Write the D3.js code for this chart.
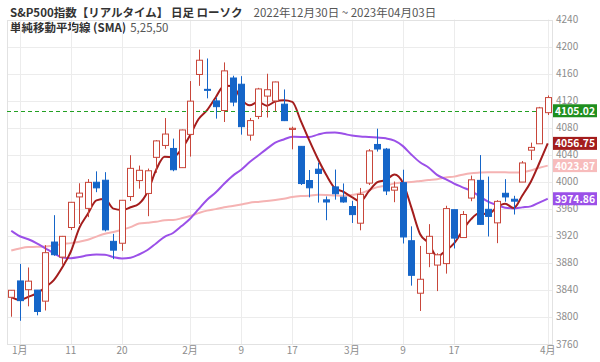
<!DOCTYPE html>
<html>
<head>
<meta charset="utf-8">
<script src="https://cdn.jsdelivr.net/npm/d3@7"></script>
<style>
  body { margin: 0; background: #fff; }
  svg { display: block; font-family: "Noto Sans CJK JP", "Noto Sans", sans-serif; }
</style>
</head>
<body>
<svg id="chart" width="600" height="362"></svg>
<script>
// Daily candles, 2022-12-30 .. 2023-04-03
const dates = [
  '2022-12-30',
  '2023-01-03','2023-01-04','2023-01-05','2023-01-06','2023-01-09','2023-01-10','2023-01-11','2023-01-12','2023-01-13',
  '2023-01-17','2023-01-18','2023-01-19','2023-01-20','2023-01-23','2023-01-24','2023-01-25','2023-01-26','2023-01-27',
  '2023-01-30','2023-01-31','2023-02-01','2023-02-02','2023-02-03','2023-02-06','2023-02-07','2023-02-08','2023-02-09',
  '2023-02-10','2023-02-13','2023-02-14','2023-02-15','2023-02-16','2023-02-17','2023-02-21','2023-02-22','2023-02-23',
  '2023-02-24','2023-02-27','2023-02-28','2023-03-01','2023-03-02','2023-03-03','2023-03-06','2023-03-07','2023-03-08',
  '2023-03-09','2023-03-10','2023-03-13','2023-03-14','2023-03-15','2023-03-16','2023-03-17','2023-03-20','2023-03-21',
  '2023-03-22','2023-03-23','2023-03-24','2023-03-27','2023-03-28','2023-03-29','2023-03-30','2023-03-31','2023-04-03'
];
const open = [
  3829.06,
  3853.29,3840.36,3839.74,3823.37,3910.82,3888.57,3932.35,3977.57,3960.60,
  3999.28,4002.25,3911.84,3909.04,3978.14,4001.74,3982.71,4036.08,4053.72,
  4049.27,4020.85,4070.07,4158.68,4136.69,4119.57,4105.35,4153.47,4144.25,
  4068.92,4096.62,4126.70,4119.50,4114.75,4077.39,4052.35,4001.83,4018.60,
  3973.24,3992.36,3977.19,3963.34,3938.68,3998.02,4055.15,4048.26,3987.55,
  3998.66,3912.77,3835.12,3894.01,3876.74,3878.93,3958.69,3917.47,3975.89,
  4002.04,3959.21,3939.21,3982.93,3974.13,3999.53,4046.74,4056.18,4102.20
];
const high = [
  3839.85,
  3878.46,3873.16,3839.74,3906.19,3950.57,3919.83,3970.07,3997.76,4003.95,
  4015.39,4014.16,3922.94,3972.96,4039.31,4023.92,4019.55,4061.57,4094.21,
  4063.85,4077.16,4148.95,4195.44,4182.36,4124.63,4176.54,4156.85,4156.23,
  4094.36,4138.90,4159.77,4148.11,4136.54,4081.51,4052.35,4017.37,4028.30,
  3978.25,4018.05,3997.50,3971.73,3990.84,4048.29,4078.49,4050.00,4000.41,
  4017.81,3934.05,3905.05,3937.29,3894.26,3964.46,3958.91,3956.62,4009.08,
  4039.49,4007.66,3972.74,4003.83,3979.20,4030.59,4057.85,4110.75,4127.66
];
const low = [
  3800.34,
  3794.33,3815.77,3802.42,3809.56,3890.42,3877.29,3928.54,3937.56,3947.67,
  3984.57,3926.59,3885.54,3897.86,3971.64,3989.79,3949.06,4013.29,4048.70,
  4015.55,4020.44,4037.20,4141.88,4123.36,4093.38,4088.39,4111.67,4069.67,
  4060.79,4092.67,4095.01,4103.98,4089.75,4047.95,3995.19,3976.90,3969.19,
  3943.08,3973.55,3968.98,3939.05,3928.16,3995.17,4044.61,3980.31,3969.76,
  3908.70,3846.32,3808.86,3873.63,3838.24,3864.11,3901.27,3916.89,3971.19,
  3936.17,3919.05,3909.16,3970.47,3951.53,3999.53,4032.10,4056.18,4098.79
];
const close = [
  3839.50,
  3824.14,3852.97,3808.10,3895.08,3892.09,3919.25,3969.61,3983.17,3999.09,
  3990.97,3928.86,3898.85,3972.61,4019.81,4016.95,4016.22,4060.43,4070.56,
  4017.77,4076.60,4119.21,4179.76,4136.48,4111.08,4164.00,4117.86,4081.50,
  4090.46,4137.29,4136.13,4147.60,4090.41,4079.09,3997.34,3991.05,4012.32,
  3970.04,3982.24,3970.15,3951.39,3981.35,4045.64,4048.42,3986.37,3992.01,
  3918.32,3861.59,3855.76,3919.29,3891.93,3960.28,3916.64,3951.57,4002.87,
  3936.97,3948.72,3970.99,3977.53,3971.27,4027.81,4050.83,4109.31,4124.51
];

// Moving averages as drawn
const sma5 = [
  3829.2,
  3825.1,3829.8,3834.8,3844.0,3854.5,3873.5,3896.8,3931.8,3952.6,
  3972.4,3974.3,3960.2,3958.1,3962.2,3967.4,3984.9,4017.2,4036.8,
  4036.4,4048.3,4068.9,4092.8,4106.0,4124.6,4142.1,4141.8,4122.2,
  4113.0,4118.2,4112.6,4118.6,4120.4,4118.1,4090.1,4061.1,4034.0,
  4010.0,3990.6,3985.2,3977.2,3971.0,3986.2,3999.4,4002.6,4010.8,
  3998.2,3961.3,3922.8,3909.4,3889.4,3897.8,3908.8,3927.9,3944.7,
  3953.7,3951.4,3962.2,3967.4,3961.1,3979.3,3999.7,4027.4,4056.75
];
const sma25 = [
  3927.5,
  3919.4,3915.0,3909.0,3901.6,3894.2,3888.1,3887.0,3888.6,3891.3,
  3892.4,3892.1,3888.5,3886.6,3887.6,3892.4,3899.0,3908.7,3918.6,
  3924.2,3934.4,3945.3,3959.4,3973.5,3984.0,3997.0,4008.7,4017.8,
  4029.1,4038.8,4048.6,4057.7,4062.6,4066.4,4066.3,4066.3,4069.7,
  4072.5,4072.9,4070.9,4068.3,4066.9,4066.3,4065.4,4064.2,4060.8,
  4052.7,4040.0,4028.8,4021.1,4010.2,4003.9,3997.3,3991.8,3986.4,
  3978.4,3970.5,3965.7,3961.6,3960.6,3962.1,3963.6,3969.2,3974.86
];
const sma50 = [
  3898.3,
  3901.4,3903.4,3903.7,3904.4,3905.6,3907.8,3909.2,3911.4,3914.3,
  3918.9,3923.1,3925.7,3929.0,3932.8,3938.2,3939.4,3940.7,3943.0,
  3943.5,3945.9,3949.3,3953.6,3957.3,3959.5,3962.2,3964.1,3966.4,
  3969.1,3970.2,3971.4,3972.9,3974.8,3977.5,3978.8,3979.3,3980.9,
  3980.5,3979.7,3979.2,3980.3,3982.9,3987.5,3992.0,3994.2,3997.6,
  3999.0,3999.7,4001.1,4002.5,4003.6,4006.3,4007.6,4010.5,4012.6,
  4013.5,4014.1,4014.1,4014.0,4013.5,4014.2,4016.6,4020.8,4023.87
];

const lastPrice = 4105.02;

const yTicks = [3760, 3800, 3840, 3880, 3920, 3960, 4000, 4040, 4080, 4120, 4160, 4200, 4240];
const xTickDates = ['2023-01-03', '2023-01-11', '2023-01-20', '2023-02-01', '2023-02-09', '2023-02-17', '2023-03-01', '2023-03-09', '2023-03-17', '2023-04-03'];
const xTickLabels = ['1月', '11', '20', '2月', '9', '17', '3月', '9', '17', '4月'];

const UP = '#c8463a';
const DOWN = '#1565c8';

const svg = d3.select('#chart');
const plot = { left: 7, right: 552, top: 19.5, bottom: 344 };

const x = d3.scalePoint().domain(dates).range([plot.left, plot.right]).padding(0.5);
const y = d3.scaleLinear().domain([3760, 4240]).range([plot.bottom, plot.top]);

// Title
const title = svg.append('text').attr('x', 10).attr('y', 17).attr('font-size', 11.5);
title.append('tspan').attr('font-weight', 'bold').attr('fill', '#333').text('S&P500指数【リアルタイム】 日足 ローソク');
title.append('tspan').attr('dx', 11).attr('fill', '#555').text('2022年12月30日 ~ 2023年04月03日');
const sub = svg.append('text').attr('x', 10).attr('y', 32).attr('font-size', 11.5);
sub.append('tspan').attr('font-weight', 'bold').attr('fill', '#333').text('単純移動平均線 (SMA)');
sub.append('tspan').attr('dx', 4).attr('fill', '#555').text('5,25,50');

// Grid
const grid = svg.append('g');
grid.selectAll('line.h').data(yTicks).enter().append('line')
  .attr('x1', plot.left).attr('x2', plot.right)
  .attr('y1', d => Math.round(y(d)) + 0.5).attr('y2', d => Math.round(y(d)) + 0.5)
  .attr('stroke', '#ececec');
grid.selectAll('line.v').data(xTickDates).enter().append('line')
  .attr('y1', plot.top).attr('y2', plot.bottom)
  .attr('x1', d => Math.round(x(d)) + 0.5).attr('x2', d => Math.round(x(d)) + 0.5)
  .attr('stroke', '#ececec');
svg.append('rect')
  .attr('x', plot.left + 0.5).attr('y', Math.round(plot.top) + 0.5)
  .attr('width', plot.right - plot.left).attr('height', plot.bottom - Math.round(plot.top))
  .attr('fill', 'none').attr('stroke', '#e2e2e2');

// Axis labels
svg.append('g').selectAll('text').data(yTicks).enter().append('text')
  .attr('x', 556).attr('y', d => y(d) + 3.5)
  .attr('font-size', 10).attr('fill', '#8c8c8c')
  .text(d => d);
svg.append('g').selectAll('text').data(xTickDates).enter().append('text')
  .attr('x', d => x(d)).attr('y', 354)
  .attr('text-anchor', 'middle').attr('font-size', 10).attr('fill', '#8c8c8c')
  .text((d, i) => xTickLabels[i]);

// Moving averages (behind candles)
function drawLine(values, color, width) {
  const line = d3.line().x((d, i) => x(dates[i])).y(d => y(d)).curve(d3.curveMonotoneX);
  svg.append('path').datum(values)
    .attr('d', line).attr('fill', 'none')
    .attr('stroke', color).attr('stroke-width', width);
}
drawLine(sma50, '#f5b3b3', 2);
drawLine(sma25, '#9b50e8', 2);
drawLine(sma5, '#a31d1d', 2);

// Last price line
svg.append('line')
  .attr('x1', plot.left).attr('x2', plot.right)
  .attr('y1', Math.round(y(lastPrice)) + 0.5).attr('y2', Math.round(y(lastPrice)) + 0.5)
  .attr('stroke', '#23a023').attr('stroke-dasharray', '4,3');

// Candles
const candles = svg.append('g').selectAll('g').data(dates).enter().append('g');
candles.append('line')
  .attr('x1', d => Math.round(x(d)) + 0.5).attr('x2', d => Math.round(x(d)) + 0.5)
  .attr('y1', (d, i) => y(high[i])).attr('y2', (d, i) => y(low[i]))
  .attr('stroke', (d, i) => close[i] >= open[i] ? UP : DOWN);
candles.append('rect')
  .attr('x', d => Math.round(x(d)) - 2.5)
  .attr('width', 6)
  .attr('y', (d, i) => y(Math.max(open[i], close[i])))
  .attr('height', (d, i) => Math.max(1, Math.abs(y(open[i]) - y(close[i]))))
  .attr('fill', (d, i) => close[i] >= open[i] ? '#fff' : DOWN)
  .attr('stroke', (d, i) => close[i] >= open[i] ? UP : DOWN);

// Value tags on the right
const tags = [
  { v: sma50[sma50.length - 1], c: '#f7bcbc' },
  { v: sma25[sma25.length - 1], c: '#9b50e8' },
  { v: sma5[sma5.length - 1], c: '#a31d1d' },
  { v: lastPrice, c: '#1f8f1f' }
];
const tag = svg.append('g').selectAll('g').data(tags).enter().append('g');
tag.append('rect')
  .attr('x', 553).attr('y', d => y(d.v) - 6.5).attr('width', 44).attr('height', 13)
  .attr('fill', d => d.c);
tag.append('text')
  .attr('x', 575).attr('y', d => y(d.v) + 4)
  .attr('text-anchor', 'middle')
  .attr('font-size', 10.5).attr('font-weight', 'bold').attr('fill', '#fff')
  .attr('textLength', 40).attr('lengthAdjust', 'spacingAndGlyphs')
  .text(d => d.v.toFixed(2));
</script>
</body>
</html>
